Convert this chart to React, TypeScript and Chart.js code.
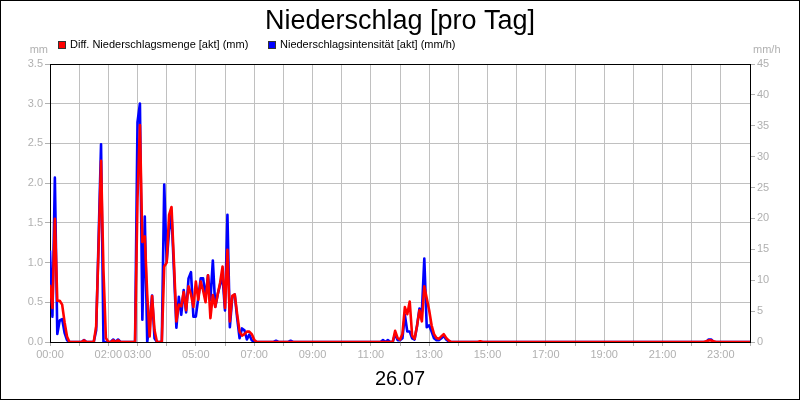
import React, { useEffect, useRef } from 'react';
import { Chart, registerables } from 'chart.js';

Chart.register(...registerables);

// one value every 5 minutes, one row per hour, last value = 24:00
const stepMinutes = 5;

// Diff. Niederschlagsmenge (mm), left axis
const rainAmount = [
  0.72, 0.43, 1.55, 0.52, 0.52, 0.47, 0.25, 0.07, 0, 0, 0, 0, // 00
  0, 0, 0.02, 0, 0, 0, 0, 0.2, 1.2, 2.28, 0.9, 0.05, // 01
  0, 0, 0.02, 0, 0.02, 0, 0, 0, 0, 0, 0, 0, // 02
  1.8, 2.73, 1.26, 1.33, 0.6, 0.07, 0.58, 0.15, 0, 0, 0, 0.95, // 03
  1.0, 1.6, 1.7, 1.0, 0.26, 0.47, 0.45, 0.63, 0.4, 0.7, 0.6, 0.44, // 04
  0.76, 0.53, 0.76, 0.65, 0.5, 0.84, 0.3, 0.59, 0.44, 0.6, 0.75, 0.95, // 05
  0.43, 1.16, 0.26, 0.58, 0.6, 0.35, 0.13, 0.08, 0.1, 0.13, 0.13, 0.1, // 06
  0.03, 0, 0, 0, 0, 0, 0, 0, 0, 0, 0, 0, // 07
  0, 0, 0, 0, 0, 0, 0, 0, 0, 0, 0, 0, // 08
  0, 0, 0, 0, 0, 0, 0, 0, 0, 0, 0, 0, // 09
  0, 0, 0, 0, 0, 0, 0, 0, 0, 0, 0, 0, // 10
  0, 0, 0, 0, 0, 0, 0, 0, 0, 0, 0.14, 0.05, // 11
  0.03, 0.1, 0.44, 0.35, 0.51, 0.08, 0.04, 0.2, 0.4, 0.26, 0.7, 0.55, // 12
  0.4, 0.21, 0.1, 0.05, 0.04, 0.07, 0.1, 0.05, 0.02, 0, 0, 0, // 13
  0, 0, 0, 0, 0, 0, 0, 0, 0, 0.01, 0, 0, // 14
  0, 0, 0, 0, 0, 0, 0, 0, 0, 0, 0, 0, // 15
  0, 0, 0, 0, 0, 0, 0, 0, 0, 0, 0, 0, // 16
  0, 0, 0, 0, 0, 0, 0, 0, 0, 0, 0, 0, // 17
  0, 0, 0, 0, 0, 0, 0, 0, 0, 0, 0, 0, // 18
  0, 0, 0, 0, 0, 0, 0, 0, 0, 0, 0, 0, // 19
  0, 0, 0, 0, 0, 0, 0, 0, 0, 0, 0, 0, // 20
  0, 0, 0, 0, 0, 0, 0, 0, 0, 0, 0, 0, // 21
  0, 0, 0, 0, 0, 0, 0.01, 0.02, 0.02, 0.01, 0, 0, // 22
  0, 0, 0, 0, 0, 0, 0, 0, 0, 0, 0, 0, // 23
  0,
];

// Niederschlagsintensität (mm/h), right axis
const rainIntensity = [
  14.8, 4.1, 26.6, 1.3, 3.5, 3.7, 1.5, 0.3, 0, 0, 0, 0, // 00
  0, 0, 0.3, 0, 0, 0, 0, 1.9, 16.7, 32.0, 0, 0, // 01
  0, 0, 0.4, 0, 0.4, 0, 0, 0, 0, 0, 0, 0, // 02
  35.6, 38.6, 3.6, 20.3, 0, 3.2, 7.5, 0.6, 0, 0, 0, 25.5, // 03
  13.0, 18.0, 20.6, 11.6, 2.3, 7.3, 4.4, 8.4, 4.8, 10.3, 11.3, 4.1, // 04
  4.1, 7.1, 10.3, 10.3, 7.3, 10.8, 6.8, 13.2, 5.7, 7.7, 9.3, 10.5, // 05
  5.1, 20.6, 2.4, 7.3, 7.7, 3.9, 0.6, 2.2, 1.9, 0.4, 1.2, 0.3, // 06
  0, 0, 0, 0, 0, 0, 0, 0, 0, 0.2, 0, 0, // 07
  0, 0, 0, 0.2, 0, 0, 0, 0, 0, 0, 0, 0, // 08
  0, 0, 0, 0, 0, 0, 0, 0, 0, 0, 0, 0, // 09
  0, 0, 0, 0, 0, 0, 0, 0, 0, 0, 0, 0, // 10
  0, 0, 0, 0, 0, 0.3, 0, 0.3, 0, 0, 1.3, 0.3, // 11
  0.3, 0.6, 4.4, 1.7, 1.7, 0.6, 0.4, 2.6, 5.4, 4.9, 13.5, 2.4, // 12
  2.7, 1.7, 0.6, 0.3, 0.3, 0.6, 1.0, 0.4, 0.1, 0, 0, 0, // 13
  0, 0, 0, 0, 0, 0, 0, 0, 0, 0, 0, 0, // 14
  0, 0, 0, 0, 0, 0, 0, 0, 0, 0, 0, 0, // 15
  0, 0, 0, 0, 0, 0, 0, 0, 0, 0, 0, 0, // 16
  0, 0, 0, 0, 0, 0, 0, 0, 0, 0, 0, 0, // 17
  0, 0, 0, 0, 0, 0, 0, 0, 0, 0, 0, 0, // 18
  0, 0, 0, 0, 0, 0, 0, 0, 0, 0, 0, 0, // 19
  0, 0, 0, 0, 0, 0, 0, 0, 0, 0, 0, 0, // 20
  0, 0, 0, 0, 0, 0, 0, 0, 0, 0, 0, 0, // 21
  0, 0, 0, 0, 0, 0, 0, 0.4, 0.4, 0, 0, 0, // 22
  0, 0, 0, 0, 0, 0, 0, 0, 0, 0, 0, 0, // 23
  0,
];

const labeledHours = [0, 2, 3, 5, 7, 9, 11, 13, 15, 17, 19, 21, 23];
const seriesNames = ['Diff. Niederschlagsmenge [akt] (mm)', 'Niederschlagsintensität [akt] (mm/h)'];
const title = 'Niederschlag [pro Tag]';
const dateLabel = '26.07';

const FONT = '"Liberation Sans", Arial, sans-serif';
const GRID = '#c0c0c0';
const TICK_TEXT = '#b0b0b0';

const toPoints = (values: number[]) => values.map((v, i) => ({ x: i * stepMinutes, y: v }));

// texts, legend and frames drawn around the plot
const decorations = {
  id: 'decorations',
  beforeDatasetsDraw(chart: any) {
    const { ctx, chartArea } = chart;
    ctx.save();
    ctx.strokeStyle = '#000';
    ctx.lineWidth = 1;
    ctx.beginPath();
    ctx.moveTo(chartArea.left, chartArea.top + 0.5);
    ctx.lineTo(chartArea.right, chartArea.top + 0.5);
    ctx.stroke();
    ctx.restore();
  },
  afterDraw(chart: any) {
    const { ctx } = chart;
    ctx.save();
    ctx.fillStyle = '#000';
    ctx.textAlign = 'center';
    ctx.textBaseline = 'alphabetic';
    ctx.font = `27px ${FONT}`;
    ctx.fillText(title, 400, 28.5);
    ctx.font = `20px ${FONT}`;
    ctx.fillText(dateLabel, 400, 385);

    ctx.font = `11px ${FONT}`;
    ctx.fillStyle = TICK_TEXT;
    ctx.textAlign = 'right';
    ctx.fillText('mm', 48, 53);
    ctx.textAlign = 'left';
    ctx.fillText('mm/h', 753, 53);

    const legendX = [58, 268];
    chart.data.datasets.forEach((ds: any, i: number) => {
      const x = legendX[i];
      ctx.fillStyle = ds.borderColor;
      ctx.fillRect(x, 41, 8, 8);
      ctx.strokeStyle = '#333';
      ctx.lineWidth = 1;
      ctx.strokeRect(x + 0.5, 41.5, 7, 7);
      ctx.fillStyle = '#000';
      ctx.fillText(ds.label, x + 12, 48);
    });

    ctx.strokeStyle = '#000';
    ctx.strokeRect(0.5, 0.5, 799, 399);
    ctx.restore();
  },
};

const App: React.FC = () => {
  const canvasRef = useRef<HTMLCanvasElement>(null);

  useEffect(() => {
    if (!canvasRef.current) return;
    const chart = new Chart(canvasRef.current, {
      type: 'line',
      data: {
        datasets: [
          {
            label: seriesNames[0],
            data: toPoints(rainAmount),
            yAxisID: 'y',
            borderColor: '#ff0000',
            backgroundColor: '#ff0000',
            borderWidth: 2.6,
            pointRadius: 0,
            tension: 0,
            borderJoinStyle: 'round',
            order: 0,
          },
          {
            label: seriesNames[1],
            data: toPoints(rainIntensity),
            yAxisID: 'y1',
            borderColor: '#0000ff',
            backgroundColor: '#0000ff',
            borderWidth: 2.6,
            pointRadius: 0,
            tension: 0,
            borderJoinStyle: 'round',
            order: 1,
          },
        ],
      },
      options: {
        responsive: false,
        animation: false,
        devicePixelRatio: 1,
        layout: { padding: { top: 64, bottom: 38, left: 0, right: 0 } },
        plugins: {
          legend: { display: false },
          title: { display: false },
          tooltip: { enabled: false },
        },
        scales: {
          x: {
            type: 'linear',
            min: 0,
            max: 24 * 60,
            afterBuildTicks: (scale: any) => {
              const ticks = [];
              for (let h = 0; h <= 24; h++) ticks.push({ value: h * 60 });
              scale.ticks = ticks;
            },
            afterFit: (scale: any) => {
              scale.height = 20;
            },
            ticks: {
              autoSkip: false,
              maxRotation: 0,
              color: TICK_TEXT,
              font: { family: FONT, size: 11 },
              padding: 2,
              callback: (v: any) => {
                const h = Number(v) / 60;
                return labeledHours.includes(h) ? `${String(h).padStart(2, '0')}:00` : '';
              },
            },
            grid: { color: GRID, tickColor: TICK_TEXT, tickLength: 4 },
            border: { color: '#000' },
          },
          y: {
            position: 'left',
            min: 0,
            max: 3.5,
            afterFit: (scale: any) => {
              scale.width = 50;
            },
            ticks: {
              stepSize: 0.5,
              color: TICK_TEXT,
              font: { family: FONT, size: 11 },
              padding: 2,
              callback: (v: any) => Number(v).toFixed(1),
            },
            grid: { color: GRID, tickColor: TICK_TEXT, tickLength: 5 },
            border: { color: '#000' },
          },
          y1: {
            position: 'right',
            min: 0,
            max: 45,
            afterFit: (scale: any) => {
              scale.width = 50;
            },
            ticks: {
              stepSize: 5,
              color: TICK_TEXT,
              font: { family: FONT, size: 11 },
              padding: 2,
            },
            grid: { drawOnChartArea: false, tickColor: TICK_TEXT, tickLength: 5 },
            border: { color: '#000' },
          },
        },
      },
      plugins: [decorations],
    } as any);

    return () => {
      chart.destroy();
    };
  }, []);

  return (
    <div style={{ position: 'absolute', left: 0, top: 0, width: 800, height: 400, background: '#fff' }}>
      <canvas ref={canvasRef} width={800} height={400} />
    </div>
  );
};

export default App;
